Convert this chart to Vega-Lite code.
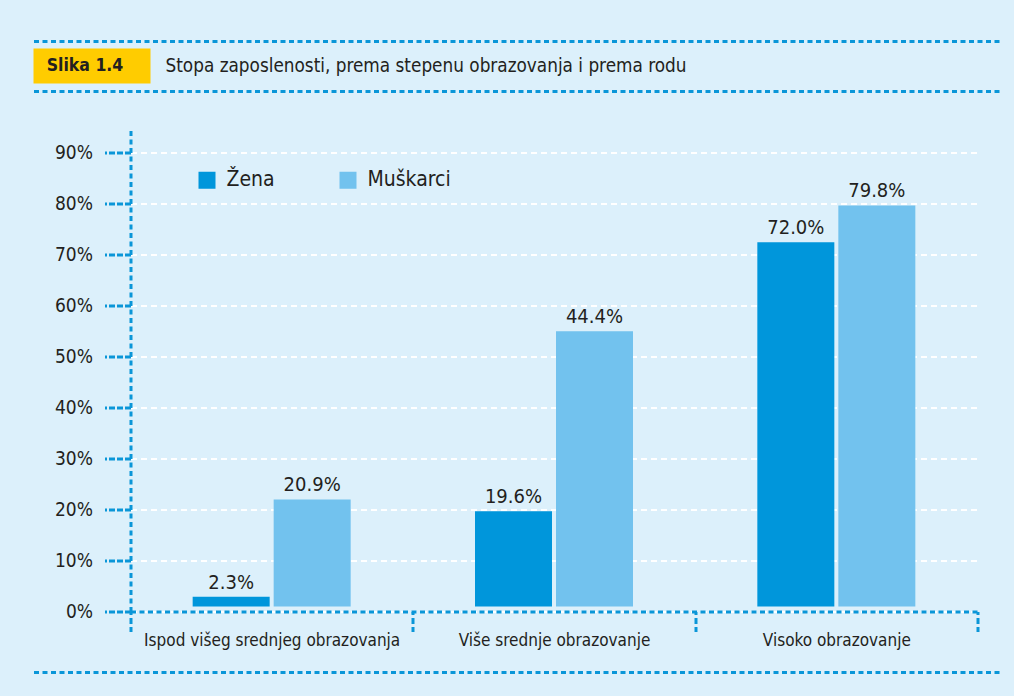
{
  "$schema": "https://vega.github.io/schema/vega-lite/v6.json",
  "background": "#dcf0fb",
  "padding": {"left": 31.5, "top": 39.5, "right": 12, "bottom": 21.5},
  "autosize": {"type": "pad"},
  "spacing": 0,
  "resolve": {"scale": {"color": "independent"}, "legend": {"color": "independent"}},
  "config": {
    "view": {"stroke": null},
    "font": "DejaVu Sans Condensed, sans-serif",
    "axisX": {"grid": false},
    "concat": {"spacing": 0}
  },
  "vconcat": [
    {
      "width": 966, "height": 7,
      "data": {"values": [{"edge": "top"}]},
      "mark": {"type": "rule", "color": "#0a96d8", "strokeWidth": 3, "strokeDash": [5, 3.5]},
      "encoding": {"y": {"field": "edge", "type": "nominal", "axis": null, "scale": {"type": "point", "padding": 0, "align": 0}}}
    },
    {
      "width": 117, "height": 35,
      "view": {"fill": "#ffcc00", "stroke": null},
      "data": {"values": [{"tag": "Slika 1.4", "caption": "Stopa zaposlenosti, prema stepenu obrazovanja i prema rodu"}]},
      "layer": [
        {
          "mark": {"type": "text", "fontWeight": "bold", "fontSize": 17.5, "color": "#231f20", "dx": -7},
          "encoding": {"text": {"field": "tag"}}
        },
        {
          "mark": {"type": "text", "fontSize": 18.8, "color": "#231f20", "align": "left", "dx": 73.5},
          "encoding": {"text": {"field": "caption"}}
        }
      ]
    },
    {
      "width": 966, "height": 43.5,
      "data": {"values": [{"edge": "middle"}]},
      "mark": {"type": "rule", "color": "#0a96d8", "strokeWidth": 3, "strokeDash": [5, 3.5]},
      "encoding": {"y": {"field": "edge", "type": "nominal", "axis": null, "scale": {"type": "point", "padding": 0, "align": 0.1839}}}
    },
    {
      "spacing": 0,
      "resolve": {"scale": {"color": "independent"}, "legend": {"color": "independent"}},
      "hconcat": [
        {
          "width": 0, "height": 484,
          "data": {"values": []},
          "mark": "point"
        },
        {
          "width": 869, "height": 484,
          "data": {"values": [
            {"level": "Ispod višeg srednjeg obrazovanja", "sex": "Žena", "height": 2.9, "label": "2.3%"},
            {"level": "Ispod višeg srednjeg obrazovanja", "sex": "Muškarci", "height": 22.0, "label": "20.9%"},
            {"level": "Više srednje obrazovanje", "sex": "Žena", "height": 19.7, "label": "19.6%"},
            {"level": "Više srednje obrazovanje", "sex": "Muškarci", "height": 55.0, "label": "44.4%"},
            {"level": "Visoko obrazovanje", "sex": "Žena", "height": 72.5, "label": "72.0%"},
            {"level": "Visoko obrazovanje", "sex": "Muškarci", "height": 79.7, "label": "79.8%"}
          ]},
          "encoding": {
            "x": {
              "field": "level", "type": "nominal", "sort": null, "title": null,
              "scale": {"range": [0, 847], "paddingInner": 0, "paddingOuter": 0},
              "axis": {
                "tickBand": "extent", "labelAngle": 0, "labelLimit": 0,
                "domainColor": "#0a96d8", "domainWidth": 3, "domainDash": [5, 3.5],
                "tickColor": "#0a96d8", "tickWidth": 3, "tickSize": 20, "tickDash": [6, 3], "tickDashOffset": 3,
                "labelPadding": 1, "labelFontSize": 17, "labelColor": "#231f20"
              }
            },
            "xOffset": {"field": "sex", "type": "nominal", "sort": ["Žena", "Muškarci"], "scale": {"paddingInner": 0.0494, "paddingOuter": 0.7675}},
            "y": {
              "field": "height", "type": "quantitative", "title": null,
              "scale": {"domain": [0, 95], "nice": false},
              "axis": {
                "values": [0, 10, 20, 30, 40, 50, 60, 70, 80, 90],
                "labelExpr": "datum.value + '%'",
                "grid": true, "gridColor": "#ffffff", "gridDash": [6, 4], "gridWidth": 2,
                "domainColor": "#0a96d8", "domainWidth": 3, "domainDash": [5, 3.5],
                "tickColor": "#0a96d8", "tickSize": 26, "tickWidth": 3, "tickDash": [6, 2],
                "labelPadding": 12, "labelFontSize": 19, "labelColor": "#231f20",
                "minExtent": 77, "maxExtent": 77
              }
            },
            "color": {
              "field": "sex", "type": "nominal",
              "scale": {"domain": ["Žena", "Muškarci"], "range": ["#0096db", "#72c2ee"]},
              "legend": {
                "orient": "none", "legendX": 66, "legendY": 42, "direction": "horizontal", "title": null,
                "symbolType": "square", "symbolSize": 289, "symbolStrokeWidth": 0, "symbolOpacity": 1,
                "labelFontSize": 21, "labelColor": "#231f20", "labelOffset": 9, "columnPadding": 62,
                "padding": 0, "labelLimit": 0
              }
            }
          },
          "layer": [
            {"mark": {"type": "bar", "y2Offset": -5}, "encoding": {"y2": {"datum": 0}}},
            {
              "mark": {"type": "text", "baseline": "alphabetic", "dy": -8, "fontSize": 20, "color": "#231f20"},
              "encoding": {"text": {"field": "label"}, "color": {"value": "#231f20"}}
            }
          ]
        }
      ]
    },
    {
      "width": 966, "height": 24,
      "data": {"values": [{"edge": "bottom"}]},
      "mark": {"type": "rule", "color": "#0a96d8", "strokeWidth": 3, "strokeDash": [5, 3.5]},
      "encoding": {"y": {"field": "edge", "type": "nominal", "axis": null, "scale": {"type": "point", "padding": 0, "align": 1}}}
    }
  ]
}
